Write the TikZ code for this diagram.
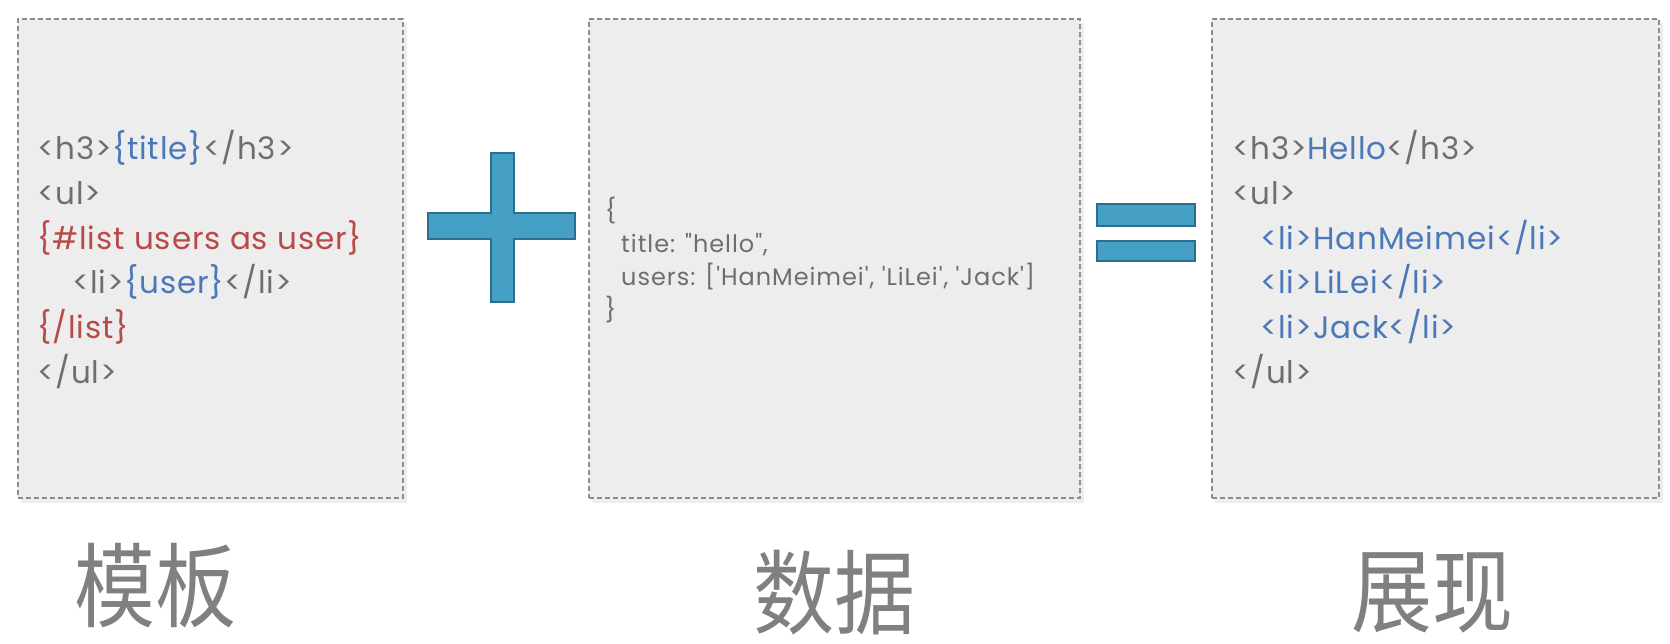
\documentclass[tikz,border=0pt]{standalone}
\usepackage{fontspec}
\setmainfont{Poppins}
\newfontfamily\codefont[LetterSpace=3]{Poppins}
\newfontfamily\jsonfont[LetterSpace=4]{Poppins}
\newfontfamily\cjk{Noto Sans CJK SC}
\definecolor{txtgray}{HTML}{6E6E6E}
\definecolor{txtblue}{HTML}{4A78B8}
\definecolor{txtred}{HTML}{B84A47}
\definecolor{boxfill}{HTML}{EDEDED}
\definecolor{boxline}{HTML}{8C8C8C}
\definecolor{opfill}{HTML}{46A0C6}
\definecolor{opline}{HTML}{2A6F8C}
\definecolor{lblgray}{HTML}{808080}
\tikzset{
  panel/.style={draw=boxline, fill=boxfill, dash pattern=on 5pt off 3pt, line width=1.4pt},
  code/.style={anchor=base west, inner sep=0pt, font=\codefont\fontsize{31}{36}\selectfont, text=txtgray},
  json/.style={anchor=base west, inner sep=0pt, font=\jsonfont\fontsize{24}{27}\selectfont, text=txtgray},
  label/.style={anchor=center, inner sep=0pt, xscale=0.88, font=\cjk\fontsize{92}{100}\selectfont, text=lblgray},
  opshape/.style={fill=opfill, draw=opline, line width=1.5pt}
}
\begin{document}
\begin{tikzpicture}[x=1pt, y=-1pt]
\useasboundingbox (0,0) rectangle (1670,644);
% shadows
\fill[black!7] (21,23) rectangle (407,503);
\fill[black!7] (592,23) rectangle (1084,503);
\fill[black!7] (1215,23) rectangle (1663,503);
% panels
\node[panel, minimum width=385pt, minimum height=479pt, inner sep=0pt] (tpl) at (210.5,258.5) {};
\node[panel, minimum width=491pt, minimum height=479pt, inner sep=0pt] (dat) at (834.5,258.5) {};
\node[panel, minimum width=447pt, minimum height=479pt, inner sep=0pt] (res) at (1435.5,258.5) {};
% template text
\node[code] (t1) at (37,160) {<h3>\textcolor{txtblue}{\{title\}}</h3>};
\node[code] (t2) at (37,204.7) {<ul>};
\node[code, text=txtred] (t3) at (37,249.4) {\{\#list users as user\}};
\node[code] (t4) at (72,294) {<li>\textcolor{txtblue}{\{user\}}</li>};
\node[code, text=txtred] (t5) at (37,338.8) {\{/list\}};
\node[code] (t6) at (37,383.5) {</ul>};
% data text
\node[json] (d1) at (605,220) {\{};
\node[json] (d2) at (621,253) {title: "hello",};
\node[json] (d3) at (621,286) {users: ['HanMeimei', 'LiLei', 'Jack']};
\node[json] (d4) at (605,319) {\}};
% result text
\node[code] (r1) at (1232,160) {<h3>\textcolor{txtblue}{Hello}</h3>};
\node[code] (r2) at (1232,204.7) {<ul>};
\node[code, text=txtblue] (r3) at (1260,249.4) {<li>HanMeimei</li>};
\node[code, text=txtblue] (r4) at (1260,294) {<li>LiLei</li>};
\node[code, text=txtblue] (r5) at (1260,338.8) {<li>Jack</li>};
\node[code] (r6) at (1232,383.5) {</ul>};
% plus
\draw[opshape] (491,153) -- (514,153) -- (514,213) -- (575,213) -- (575,239) -- (514,239) -- (514,302) -- (491,302) -- (491,239) -- (428,239) -- (428,213) -- (491,213) -- cycle;
% equals
\draw[opshape] (1097,204) rectangle (1195,226);
\draw[opshape] (1097,241) rectangle (1195,261);
% labels
\node[label] (l1) at (155,586) {模板};
\node[label] (l2) at (834,593) {数据};
\node[label] (l3) at (1432,593) {展现};
\end{tikzpicture}
\end{document}
